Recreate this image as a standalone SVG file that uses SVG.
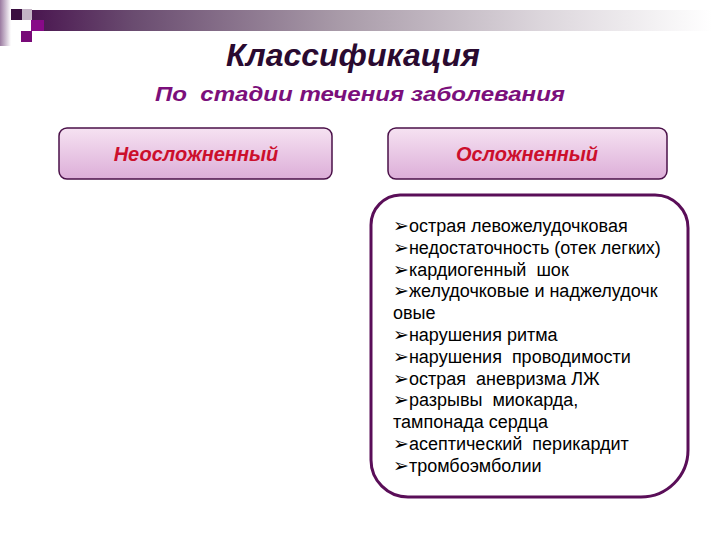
<svg xmlns="http://www.w3.org/2000/svg" width="720" height="540" viewBox="0 0 720 540">
<defs>
<linearGradient id="bar" x1="0" y1="0" x2="1" y2="0">
<stop offset="0" stop-color="#4a1650"/>
<stop offset="0.15" stop-color="#6a4c70"/>
<stop offset="0.45" stop-color="#a89aa8"/>
<stop offset="0.75" stop-color="#dcd6dc"/>
<stop offset="1" stop-color="#ffffff"/>
</linearGradient>
<linearGradient id="strip" x1="0" y1="0" x2="1" y2="0">
<stop offset="0" stop-color="#9a7aa0"/>
<stop offset="1" stop-color="#ffffff"/>
</linearGradient>
<linearGradient id="btn" x1="0" y1="0" x2="0" y2="1">
<stop offset="0" stop-color="#f6e2f2"/>
<stop offset="1" stop-color="#dcaed8"/>
</linearGradient>
<style>
.btn{fill:url(#btn);stroke:#4a1048;stroke-width:1.5}
.btxt{font-family:"Liberation Sans",Arial,sans-serif;font-weight:bold;font-style:italic;font-size:20px;fill:#cc0f2c;text-anchor:middle}
.list{font-family:"Liberation Sans",Arial,sans-serif;font-size:18px;fill:#000;white-space:pre}
.bul{font-family:"DejaVu Sans",sans-serif;font-size:19px}
</style>
</defs>
<rect width="720" height="540" fill="#ffffff"/>
<g id="decor">
<rect x="0" y="0" width="11" height="46" fill="url(#strip)"/>
<rect x="32" y="10" width="680" height="21" fill="url(#bar)"/>
<rect x="11" y="9" width="11" height="11" fill="#3a0e40"/>
<rect x="22" y="9" width="10" height="11" fill="#c4b4c6"/>
<rect x="31" y="20" width="13" height="11" fill="#880a88"/>
<rect x="21" y="31" width="11" height="11" fill="#780a78"/>
</g>
<g id="title">
<text x="353" y="66" font-family="'Liberation Sans',Arial,sans-serif" font-size="32" font-weight="bold" font-style="italic" fill="#2a0a30" text-anchor="middle">Классификация</text>
<text x="155" y="101" font-family="'Liberation Sans',Arial,sans-serif" font-size="21" font-weight="bold" font-style="italic" fill="#7b0f7b" textLength="410" lengthAdjust="spacingAndGlyphs" xml:space="preserve">По  стадии течения заболевания</text>
</g>
<g id="uncomplicated">
<rect class="btn" x="59" y="128" width="273" height="51" rx="8"/>
<text class="btxt" x="196" y="161">Неосложненный</text>
</g>
<g id="complicated">
<rect class="btn" x="388" y="128" width="279" height="51" rx="8"/>
<text class="btxt" x="527" y="161">Осложненный</text>
</g>
<g id="complications">
<path d="M400,195 H655 A33,33 0 0 1 688,228 V450 A47,47 0 0 1 641,497 H408 A37,37 0 0 1 371,460 V225 A30,30 0 0 1 400,195 Z" fill="#ffffff" stroke="#5a0e58" stroke-width="3"/>
<text class="list" x="393" y="232" xml:space="preserve"><tspan x="393" y="232"><tspan class="bul">➢</tspan>острая левожелудочковая</tspan><tspan x="393" y="253.8"><tspan class="bul">➢</tspan>недостаточность (отек легких)</tspan><tspan x="393" y="275.6"><tspan class="bul">➢</tspan>кардиогенный  шок</tspan><tspan x="393" y="297.4"><tspan class="bul">➢</tspan>желудочковые и наджелудочк</tspan><tspan x="393" y="319.2">овые</tspan><tspan x="393" y="341"><tspan class="bul">➢</tspan>нарушения ритма</tspan><tspan x="393" y="362.8"><tspan class="bul">➢</tspan>нарушения  проводимости</tspan><tspan x="393" y="384.6"><tspan class="bul">➢</tspan>острая  аневризма ЛЖ</tspan><tspan x="393" y="406.4"><tspan class="bul">➢</tspan>разрывы  миокарда,</tspan><tspan x="393" y="428.2">тампонада сердца</tspan><tspan x="393" y="450"><tspan class="bul">➢</tspan>асептический  перикардит</tspan><tspan x="393" y="471.8"><tspan class="bul">➢</tspan>тромбоэмболии</tspan></text>
</g>
</svg>
